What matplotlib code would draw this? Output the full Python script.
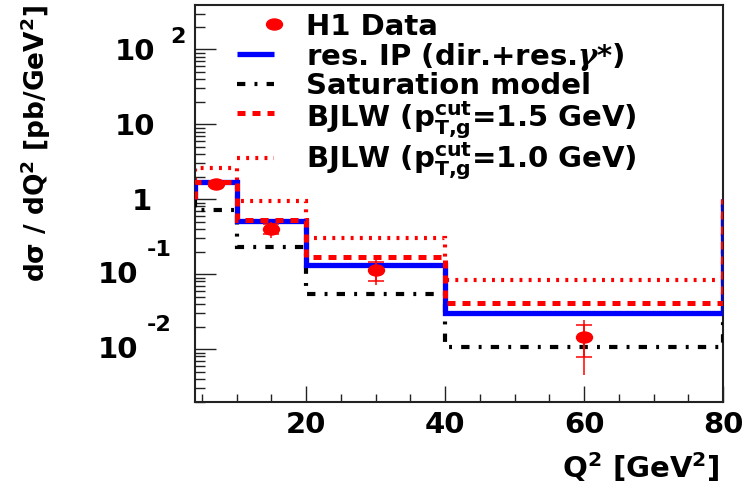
import matplotlib

matplotlib.use("Agg")
import matplotlib.pyplot as plt
import numpy as np
from matplotlib.lines import Line2D
from matplotlib.path import Path
from matplotlib.ticker import FixedLocator, LogLocator, NullFormatter
from matplotlib.transforms import Affine2D, blended_transform_factory, offset_copy

plt.rcParams["font.family"] = ["DejaVu Sans"]
plt.rcParams["font.weight"] = "bold"
plt.rcParams["mathtext.fontset"] = "custom"
plt.rcParams["mathtext.rm"] = "DejaVu Sans:bold"
plt.rcParams["mathtext.it"] = "DejaVu Serif:italic:bold"
plt.rcParams["mathtext.bf"] = "DejaVu Sans:bold"
plt.rcParams["mathtext.default"] = "rm"

# Q^2 bins and cross sections
q2_edges = [4, 10, 20, 40, 80]
res_ip = [1.69, 0.518, 0.133, 0.0302]
saturation = [0.72, 0.229, 0.054, 0.0106]
bjlw_15 = [1.70, 0.53, 0.167, 0.0418]
bjlw_10 = [2.6, 0.96, 0.302, 0.084]
closing_level = 1.0

# H1 measurement
h1_q2 = [7, 15, 30, 60]
h1_val = [1.58, 0.40, 0.114, 0.0145]
h1_stat = [0.08, 0.06, 0.032, 0.0066]
h1_tot = [0.12, 0.095, 0.042, 0.0100]

ytick_values = [1e-2, 1e-1, 1, 10, 100]
ytick_base = ["10", "10", "1", "10", "10"]
ytick_exp = ["-2", "-1", "", "", "2"]
xtick_major = [20, 40, 60, 80]
xtick_minor = [5, 10, 15, 25, 30, 35, 45, 50, 55, 65, 70, 75]

legend_labels = [
    "H1 Data",
    r"res. IP (dir.+res.$\mathit{\gamma}$*)",
    "Saturation model",
    r"BJLW (p$^{cut}_{T{,}g}$=1.5 GeV)",
    r"BJLW (p$^{cut}_{T{,}g}$=1.0 GeV)",
]

W, H = 749, 491
fig = plt.figure(figsize=(W / 100, H / 100), dpi=100)
ax = fig.add_axes([195 / W, 1 - 401.5 / H, (723 - 195) / W, (401.5 - 5) / H])
ax.set_yscale("log")
ax.set_xlim(4, 80)
ax.set_ylim(2.0e-3, 390)

# line styles shared between plot and legend
styles = {
    "res_ip": dict(color="#0000ff", lw=3.8, linestyle="-"),
    "sat": dict(color="black", lw=3.0, linestyle=(0, (2.0, 2.2, 0.7, 2.2))),
    "bjlw15": dict(color="#ff0000", lw=3.6, linestyle=(0, (1.6, 1.4))),
    "bjlw10": dict(color="#ff0000", lw=3.0, linestyle=(0, (0.7, 1.5))),
}

ax.stairs(bjlw_10, q2_edges, baseline=closing_level, zorder=2, **styles["bjlw10"])
ax.stairs(saturation, q2_edges, baseline=closing_level, zorder=3, **styles["sat"])
ax.stairs(res_ip, q2_edges, baseline=closing_level, zorder=4, **styles["res_ip"])
ax.stairs(bjlw_15, q2_edges, baseline=closing_level, zorder=5, **styles["bjlw15"])

# slightly wide dot marker
wide_dot = Path.unit_circle().transformed(Affine2D().scale(1.45, 1.0))

ax.errorbar(h1_q2, h1_val, yerr=h1_tot, fmt="none", ecolor="#ff0000",
            elinewidth=1.1, zorder=6)
ax.errorbar(h1_q2, h1_val, yerr=h1_stat, fmt="none", ecolor="#ff0000",
            elinewidth=1.1, capsize=5.8, capthick=1.1, zorder=6)
ax.plot(h1_q2, h1_val, linestyle="none", marker=wide_dot, ms=11.5,
        color="#ff0000", mec="#ff0000", zorder=7)

# ROOT-like frame and inward ticks
for side in ax.spines.values():
    side.set_linewidth(1.5)
    side.set_color("#222222")

ax.xaxis.set_major_locator(FixedLocator(xtick_major))
ax.xaxis.set_minor_locator(FixedLocator(xtick_minor))
ax.tick_params(axis="x", which="major", direction="in", length=11.5, width=1.0,
               color="#222222", labelsize=21, pad=7)
ax.tick_params(axis="x", which="minor", direction="in", length=6, width=1.0,
               color="#222222")

ax.set_yticks(ytick_values, labels=[""] * len(ytick_values))
ax.yaxis.set_minor_locator(LogLocator(base=10, subs=np.arange(2, 10)))
ax.yaxis.set_minor_formatter(NullFormatter())
ax.tick_params(axis="y", which="major", direction="in", length=15, width=1.0,
               color="#222222")
ax.tick_params(axis="y", which="minor", direction="in", length=7, width=1.0,
               color="#222222")

# y tick labels with raised exponents
ytrans = blended_transform_factory(ax.transAxes, ax.transData)
for val, base, exp in zip(ytick_values, ytick_base, ytick_exp):
    if exp.startswith("-"):
        base_dx, base_dy, exp_dx, exp_dy = -57, -1, -48, 24
    else:
        base_dx, base_dy, exp_dx, exp_dy = -40, -3, -25, 12
    if base == "1":
        base_dx = -43
    t = offset_copy(ytrans, fig=fig, x=base_dx, y=base_dy, units="dots")
    ax.text(0, val, base, transform=t, ha="right", va="center",
            fontsize=21, fontweight="bold")
    if exp:
        t = offset_copy(ytrans, fig=fig, x=exp_dx, y=exp_dy, units="dots")
        ax.text(0, val, exp, transform=t, ha="left", va="center",
                fontsize=16, fontweight="bold")

fig.text(720 / W, 1 - 467 / H, r"Q$^{2}$ [GeV$^{2}$]", ha="right",
         va="center", fontsize=21, fontweight="bold")
fig.text(36 / W, 1 - 144 / H, r"d$\sigma$ / dQ$^{2}$ [pb/GeV$^{2}$]",
         rotation=90, ha="center", va="center", fontsize=19, fontweight="bold")

# legend drawn row by row
legend_handle_y = [24, 54, 84, 113, 158]
legend_text_base = [35, 65, 94, 126, 167]
fig.add_artist(Line2D([274 / W], [1 - legend_handle_y[0] / H], linestyle="none",
                      marker=wide_dot, ms=11.5, color="#ff0000"))
for key, y in zip(["res_ip", "sat", "bjlw15", "bjlw10"], legend_handle_y[1:]):
    fig.add_artist(Line2D([237 / W, 274 / W], [1 - y / H, 1 - y / H],
                          solid_capstyle="butt", dash_capstyle="butt",
                          **styles[key]))
for label, y in zip(legend_labels, legend_text_base):
    fig.text(306 / W, 1 - y / H, label, ha="left", va="baseline",
             fontsize=21, fontweight="bold")

fig.savefig("out.png", dpi=100)
